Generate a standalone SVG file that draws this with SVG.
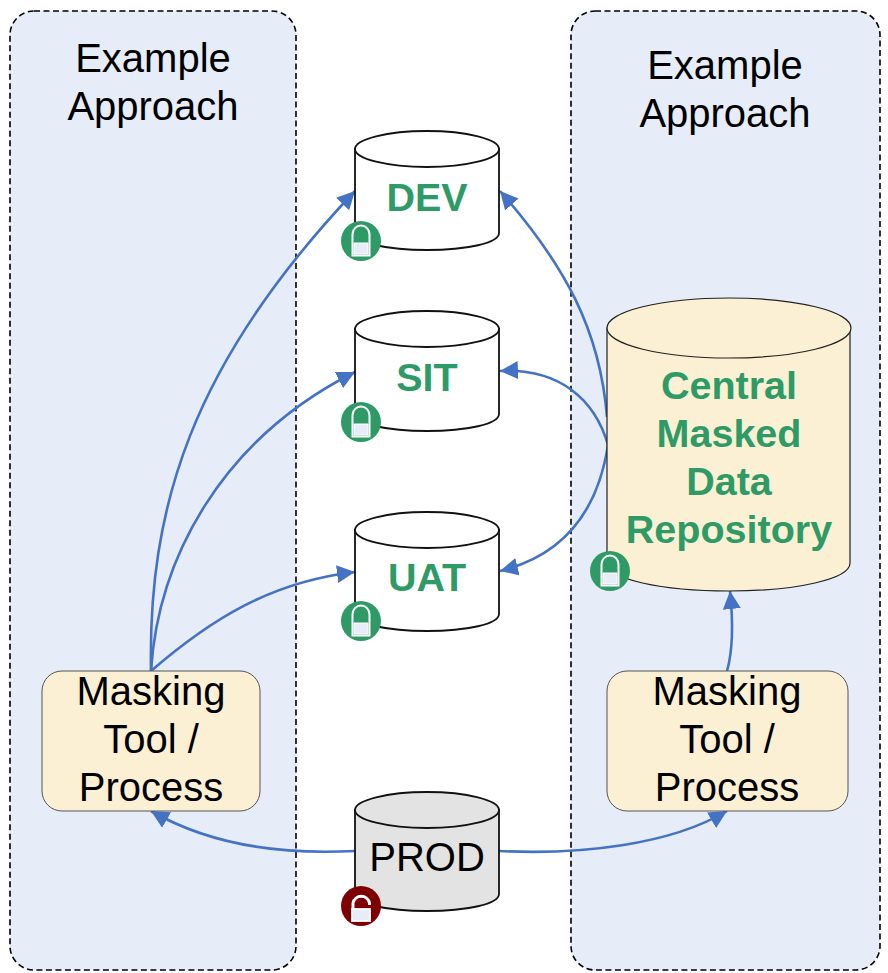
<svg xmlns="http://www.w3.org/2000/svg" width="888" height="973" viewBox="0 0 888 973">
<defs>
<marker id="arrow" markerUnits="userSpaceOnUse" markerWidth="20" markerHeight="20" refX="18" refY="9" orient="auto"><path d="M0 0L18 9L0 18Z" fill="#4472c4"/></marker>
<g id="lock-closed"><circle r="20" fill="#2e9b66"/><path d="M-8.500 -6.500A8.500 9 0 0 1 8.500 -6.500V14.500H-8.500Z" fill="#2e9b66" stroke="#fff" stroke-width="2"/><path d="M-7 2H7V13H-7Z" fill="#e6ecf8" stroke="#fff" stroke-width="1"/></g>
<g id="lock-open"><circle r="20" fill="#7f0000"/><path d="M-8 5V-3A8.500 9 0 0 1 8.500 -3V-1" fill="none" stroke="#fff" stroke-width="3"/><rect x="-9" y="3" width="18" height="12" fill="#e6ecf8" stroke="#fff" stroke-width="1.800"/></g>
</defs>
<style>
text{font-family:"Liberation Sans",Arial,sans-serif;font-size:40px;text-anchor:middle;fill:#000}
.g{font-weight:bold;font-size:39.500px;fill:#2e9b66}
.panel{fill:#e6ecf8;stroke:#000;stroke-width:1.600;stroke-dasharray:6 3.500}
.box{fill:#fcf0d4;stroke:#555;stroke-width:1}
.top{stroke:#111;stroke-width:1.800}
.c{fill:none;stroke:#4472c4;stroke-width:2.600;marker-end:url(#arrow)}
</style>
<rect width="888" height="973" fill="#fff"/>
<g id="panel-left"><rect class="panel" x="10" y="11" width="286" height="959" rx="24"/><text x="153" y="72">Example</text><text x="153" y="120">Approach</text></g>
<g id="panel-right"><rect class="panel" x="571" y="11" width="309" height="959" rx="24"/><text x="725" y="79">Example</text><text x="725" y="127">Approach</text></g>
<g id="connectors">
<path class="c" d="M151 671C148 510 190 365 355 191"/>
<path class="c" d="M151 671C158 560 220 440 355 372"/>
<path class="c" d="M151 671C210 620 270 582 355 572"/>
<path class="c" d="M607 417C600 330 565 265 500 191"/>
<path class="c" d="M608 445C595 400 560 368 500 371"/>
<path class="c" d="M608 445C598 510 565 555 500 571"/>
<path class="c" d="M727 671C733 650 733 620 730 591"/>
<path class="c" d="M355 851C280 855 210 845 151 811"/>
<path class="c" d="M499 851C580 855 670 845 727 811"/>
</g>
<g id="dev"><path d="M355 149V233C355 243 387 250 427 250S499 243 499 233V149Z" fill="#fff" stroke="#111" stroke-width="1.800"/><ellipse class="top" cx="427" cy="149" rx="72" ry="18" fill="#fff"/><text class="g" x="427" y="211">DEV</text><use href="#lock-closed" x="361" y="241"/></g>
<g id="sit"><path d="M355 329V414C355 424 387 431 427 431S499 424 499 414V329Z" fill="#fff" stroke="#111" stroke-width="1.800"/><ellipse class="top" cx="427" cy="329" rx="72" ry="18" fill="#fff"/><text class="g" x="427" y="391">SIT</text><use href="#lock-closed" x="361" y="422"/></g>
<g id="uat"><path d="M355 530V614C355 624 387 631 427 631S499 624 499 614V530Z" fill="#fff" stroke="#111" stroke-width="1.800"/><ellipse class="top" cx="427" cy="530" rx="72" ry="18" fill="#fff"/><text class="g" x="427" y="591">UAT</text><use href="#lock-closed" x="361" y="621"/></g>
<g id="prod"><path d="M355 810V894C355 904 387 911 427 911S499 904 499 894V810Z" fill="#e3e3e3" stroke="#111" stroke-width="1.800"/><ellipse class="top" cx="427" cy="810" rx="72" ry="18" fill="#e3e3e3"/><text x="427" y="871">PROD</text><use href="#lock-open" x="361" y="906"/></g>
<g id="central"><path d="M607 328V563C607 579 661 591 729 591S850 579 850 563V328Z" fill="#fcf0d4" stroke="#222" stroke-width="1.200"/><ellipse cx="729" cy="328" rx="122" ry="30" fill="#fcf0d4" stroke="#222" stroke-width="1.200"/><text class="g" x="729" y="399">Central</text><text class="g" x="729" y="447">Masked</text><text class="g" x="729" y="495">Data</text><text class="g" x="729" y="543">Repository</text><use href="#lock-closed" x="610" y="571"/></g>
<g id="tool-left"><rect class="box" x="42" y="671" width="218" height="140" rx="20"/><text x="151" y="705">Masking</text><text x="151" y="753">Tool /</text><text x="151" y="801">Process</text></g>
<g id="tool-right"><rect class="box" x="607" y="671" width="241" height="140" rx="20"/><text x="727" y="705">Masking</text><text x="727" y="753">Tool /</text><text x="727" y="801">Process</text></g>
</svg>
